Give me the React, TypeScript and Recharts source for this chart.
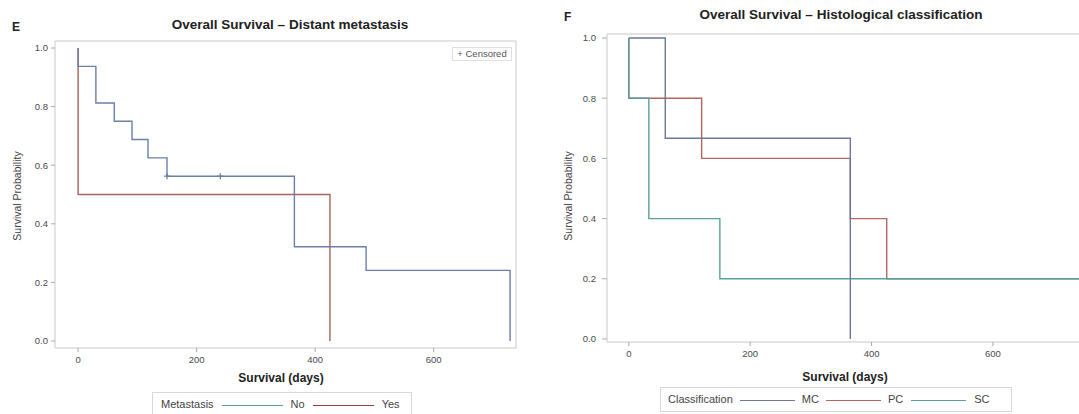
import React from 'react';
import { ComposedChart, Line, Scatter, XAxis, YAxis } from 'recharts';

// ---- Panel E: Distant metastasis ----
const noTimes = [0, 0, 30, 61, 91, 118, 150, 365, 486, 729];
const noSurv = [1.0, 0.9375, 0.8125, 0.75, 0.6875, 0.625, 0.5625, 0.3214, 0.2411, 0];
const yesTimes = [0, 0, 425];
const yesSurv = [1.0, 0.5, 0];
const censTimes = [150, 240];
const censSurv = [0.5625, 0.5625];

// ---- Panel F: Histological classification ----
const mcTimes = [0, 60, 365];
const mcSurv = [1.0, 0.6667, 0];
const pcTimes = [0, 0, 120, 365, 425, 750];
const pcSurv = [1.0, 0.8, 0.6, 0.4, 0.2, 0.2];
const scTimes = [0, 0, 33, 150, 750];
const scSurv = [1.0, 0.8, 0.4, 0.2, 0.2];

const xTicks = [0, 200, 400, 600];
const yTicks = [0, 0.2, 0.4, 0.6, 0.8, 1.0];

const toPts = (t: number[], s: number[]) => t.map((v, i) => ({ t: v, s: s[i] }));

const FONT = '"Liberation Sans", Arial, sans-serif';
const FRAME = '#c9c9c9';
const TICK = { fontSize: 9.5, fill: '#4a4a4a', fontFamily: FONT };

const C_NO = '#6a80a8';
const C_YES = '#a8645a';
const C_MC = '#6b7898';
const C_PC = '#b86560';
const C_SC = '#58a09a';

type Series = { pts: { t: number; s: number }[]; color: string; name: string };

function Panel(props: {
  width: number;
  height: number;
  margin: { top: number; left: number; right: number; bottom: number };
  xDomain: [number, number];
  yDomain: [number, number];
  series: Series[];
  yTickSize: number;
  yTickMargin: number;
  censored?: { t: number; s: number }[];
  censColor?: string;
}) {
  const { width, height, margin, xDomain, yDomain, series, censored, censColor, yTickSize, yTickMargin } = props;
  return (
    <ComposedChart width={width} height={height} margin={margin}>
      <XAxis
        xAxisId="b"
        dataKey="t"
        type="number"
        domain={xDomain}
        allowDataOverflow
        ticks={xTicks}
        height={20}
        tickSize={4}
        tickMargin={4}
        tick={TICK}
        axisLine={{ stroke: FRAME }}
        tickLine={{ stroke: '#aaa' }}
      />
      <XAxis xAxisId="top" orientation="top" type="number" domain={xDomain} allowDataOverflow height={1} tick={false} tickLine={false} axisLine={{ stroke: FRAME }} />
      <YAxis
        yAxisId="l"
        dataKey="s"
        type="number"
        domain={yDomain}
        allowDataOverflow
        ticks={yTicks}
        width={40}
        tickSize={yTickSize}
        tickMargin={yTickMargin}
        tick={TICK}
        tickFormatter={(v: number) => v.toFixed(1)}
        axisLine={{ stroke: FRAME }}
        tickLine={{ stroke: '#aaa' }}
      />
      <YAxis yAxisId="r" orientation="right" type="number" domain={yDomain} allowDataOverflow width={1} tick={false} tickLine={false} axisLine={{ stroke: FRAME }} />
      {series.map((s) => (
        <Line
          key={s.name}
          xAxisId="b"
          yAxisId="l"
          data={s.pts}
          dataKey="s"
          type="stepAfter"
          stroke={s.color}
          strokeWidth={1.4}
          dot={false}
          isAnimationActive={false}
        />
      ))}
      {censored && (
        <Scatter
          xAxisId="b"
          yAxisId="l"
          data={censored}
          dataKey="s"
          isAnimationActive={false}
          shape={(p: any) => (
            <path d={`M${p.cx - 3},${p.cy}h6M${p.cx},${p.cy - 3}v6`} stroke={censColor} strokeWidth={1.3} fill="none" />
          )}
        />
      )}
    </ComposedChart>
  );
}

const abs = (style: React.CSSProperties): React.CSSProperties => ({ position: 'absolute', fontFamily: FONT, ...style });

function LegendLine({ color, w, m }: { color: string; w: number; m: number }) {
  return <span style={{ display: 'inline-block', width: w, height: 0, borderTop: `1.5px solid ${color}`, verticalAlign: 'middle', margin: `0 ${m}px` }} />;
}

export default function App() {
  return (
    <div style={{ position: 'absolute', left: 0, top: 0, width: 1079, height: 414, overflow: 'hidden', background: '#fff' }}>
      {/* Panel E */}
      <div style={abs({ left: 0, top: 0 })}>
        <Panel
          width={540}
          height={414}
          margin={{ top: 40, left: 15, right: 23, bottom: 46 }}
          xDomain={[-39, 739]}
          yDomain={[-0.024, 1.024]}
          yTickSize={4}
          yTickMargin={3}
          series={[
            { pts: toPts(yesTimes, yesSurv), color: C_YES, name: 'Yes' },
            { pts: toPts(noTimes, noSurv), color: C_NO, name: 'No' },
          ]}
          censored={toPts(censTimes, censSurv)}
          censColor={C_NO}
        />
      </div>
      <div style={abs({ left: 12, top: 20, fontSize: 12, fontWeight: 'bold', color: '#222' })}>E</div>
      <div style={abs({ left: 140, top: 17, width: 300, textAlign: 'center', fontSize: 13.5, fontWeight: 'bold', color: '#222', whiteSpace: 'nowrap' })}>
        Overall Survival – Distant metastasis
      </div>
      <div style={abs({ left: 452, top: 47, width: 60, height: 14, border: '1px solid #e0e0e0', fontSize: 9.5, color: '#555', lineHeight: '12px', textAlign: 'center', boxSizing: 'border-box', whiteSpace: 'nowrap' })}>
        + Censored
      </div>
      <div style={abs({ left: 17, top: 196, fontSize: 10.5, color: '#444', transform: 'translate(-50%, -50%) rotate(-90deg)', whiteSpace: 'nowrap' })}>
        Survival Probability
      </div>
      <div style={abs({ left: 281, top: 378, fontSize: 12, fontWeight: 'bold', color: '#222', transform: 'translate(-50%, -50%)', whiteSpace: 'nowrap' })}>
        Survival (days)
      </div>
      <div style={abs({ left: 152, top: 392, width: 260, height: 26, border: '1px solid #d8d8d8', boxSizing: 'border-box', fontSize: 11, color: '#444', padding: '5px 0 0 8px', whiteSpace: 'nowrap' })}>
        Metastasis<LegendLine color={C_SC} w={61} m={8} />No<LegendLine color={'#9a3a3a'} w={61} m={8} />Yes
      </div>

      {/* Panel F */}
      <div style={abs({ left: 540, top: 0 })}>
        <Panel
          width={560}
          height={414}
          margin={{ top: 33, left: 27, right: 9, bottom: 52 }}
          xDomain={[-36, 760]}
          yDomain={[-0.01, 1.0133]}
          yTickSize={5}
          yTickMargin={6}
          series={[
            { pts: toPts(pcTimes, pcSurv), color: C_PC, name: 'PC' },
            { pts: toPts(scTimes, scSurv), color: C_SC, name: 'SC' },
            { pts: toPts(mcTimes, mcSurv), color: C_MC, name: 'MC' },
          ]}
        />
      </div>
      <div style={abs({ left: 564, top: 10, fontSize: 12, fontWeight: 'bold', color: '#222' })}>F</div>
      <div style={abs({ left: 691, top: 7, width: 300, textAlign: 'center', fontSize: 13.5, fontWeight: 'bold', color: '#222', whiteSpace: 'nowrap' })}>
        Overall Survival – Histological classification
      </div>
      <div style={abs({ left: 568, top: 196, fontSize: 10.5, color: '#444', transform: 'translate(-50%, -50%) rotate(-90deg)', whiteSpace: 'nowrap' })}>
        Survival Probability
      </div>
      <div style={abs({ left: 845, top: 377, fontSize: 12, fontWeight: 'bold', color: '#222', transform: 'translate(-50%, -50%)', whiteSpace: 'nowrap' })}>
        Survival (days)
      </div>
      <div style={abs({ left: 660, top: 387, width: 352, height: 25, border: '1px solid #d8d8d8', boxSizing: 'border-box', fontSize: 11, color: '#444', padding: '5px 0 0 7px', whiteSpace: 'nowrap' })}>
        Classification<LegendLine color={C_MC} w={55} m={7} />MC<LegendLine color={C_PC} w={55} m={7} />PC<LegendLine color={C_SC} w={55} m={8} />SC
      </div>
    </div>
  );
}
